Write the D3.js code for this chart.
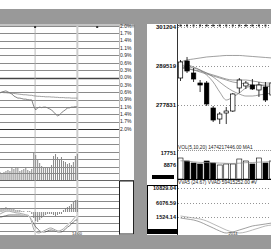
<!DOCTYPE html>
<html>
<head>
<meta charset="utf-8">
<script src="https://cdn.jsdelivr.net/npm/d3@7"></script>
<style>
  body { margin: 0; background: #fff; }
  svg { display: block; font-family: 'Liberation Sans', Arial, sans-serif; }
</style>
</head>
<body>
<svg id="chart" width="271" height="249"></svg>
<script>
// ---- left panel: intraday (percent change) ----
let pctTicks = [2.0, 1.71, 1.43, 1.14, 0.86, 0.57, 0.29, 0, -0.29, -0.57, -0.86, -1.14, -1.43, -1.71, -2.0];
let pricePct = [-0.60, -0.56, -0.54, -0.52, -0.56, -0.60, -0.64, -0.72, -0.76, -0.80,
  -0.80, -0.82, -0.84, -0.84, -0.86, -0.87, -0.87, -1.11, -1.26, -1.18,
  -1.15, -1.17, -1.15, -1.15, -1.18, -1.22, -1.26, -1.34, -1.42, -1.49,
  -1.45, -1.38, -1.30, -1.26, -1.18, -1.18, -1.15, -1.15, -1.13, -1.15];
let avgPct = [-0.58, -0.58, -0.59, -0.59, -0.60, -0.60, -0.61, -0.62, -0.63, -0.64,
  -0.65, -0.66, -0.67, -0.67, -0.68, -0.69, -0.69, -0.71, -0.72, -0.73,
  -0.73, -0.74, -0.74, -0.75, -0.75, -0.75, -0.76, -0.76, -0.77, -0.77,
  -0.78, -0.78, -0.78, -0.79, -0.79, -0.79, -0.80, -0.80, -0.80, -0.80];
let minuteVol = [8, 7, 8, 9, 10, 9, 12, 11, 13, 12, 9, 10, 11, 12, 10, 9, 11,
  28, 25, 20, 17, 14, 12, 13, 13, 12, 15, 24, 26, 23, 21, 23, 19, 18, 16, 17, 15, 18, 24, 26];
let difL = [-2, -1, 0, 1, 1, 1, 0, 0, -1, -1, -1, -2, -2, -3, -3, -4, -10, -18, -20, -21,
  -21, -20, -19, -18, -17, -16, -16, -17, -18, -19, -19, -18, -17, -15, -13, -11, -10, -7, -5, -3];
let deaL = [-5, -5, -4, -4, -3, -3, -3, -3, -3, -3, -3, -3, -3, -3, -4, -5, -8, -12, -15, -17,
  -19, -20, -20, -20, -19, -18, -18, -18, -19, -20, -20, -20, -19, -17, -15, -14, -12, -10, -8, -8];
let macdBar = [3, 4, 4, 5, 4, 4, 3, 3, 2, 2, 2, 1, 1, 0, 1, 1, -2, -6, -9, -10,
  -8, -6, -4, -3, -2, -2, -2, -3, -4, -3, -2, -2, 2, 4, 5, 6, 8, 10, 12, 12];
let vLinesL = [17.7, 39];
let topMarksL = [17.7, 49];
let timeLabel = '14:00';

// ---- right panel: daily candles ----
let priceTicks = [277831, 289519, 301204];
let opens  = [285920, 291020, 287420, 284420, 284420, 276930, 273630, 275430, 276030, 282930, 283530, 283820, 282330, 283230, 280830];
let highs  = [291320, 292220, 288920, 285320, 285020, 277530, 275730, 277230, 281430, 285920, 285020, 285620, 284720, 284720, 285620];
let lows   = [285020, 287420, 284720, 281720, 277530, 272730, 272130, 272130, 275730, 281430, 282630, 282330, 280230, 278730, 280230];
let closes = [290720, 288020, 285620, 283820, 278130, 273330, 275130, 276030, 281130, 285320, 284420, 282630, 283820, 279330, 284420];
let maLong = [290720, 291320, 291620, 291920, 292220, 292370, 292520, 292670, 292670, 292670, 292520, 292370, 292220, 292070, 291920];
let maA    = [289220, 288920, 288320, 287720, 287120, 286520, 285920, 285320, 284720, 284420, 284120, 283820, 283820, 283820, 283820];
let maB    = [288920, 288620, 288320, 288020, 287420, 286820, 286220, 285620, 285320, 285320, 285320, 285020, 284720, 284420, 284420];
let ma5    = [289520, 289820, 289220, 288320, 286820, 284720, 281720, 279320, 280220, 281420, 282920, 283520, 283820, 283520, 283220];
let ma10   = [289220, 289220, 288920, 288320, 287420, 286220, 284720, 283220, 282020, 281120, 280520, 280520, 280820, 281120, 281420];
let volTicks = [8876, 17751];
let dayVol = [14050, 11830, 10350, 9620, 11830, 10350, 8880, 9620, 9620, 13310, 11830, 9620, 14050, 10350, 11830];
let volMa = [12000, 11800, 11200, 10800, 10700, 10500, 10300, 10100, 10000, 10200, 10600, 10700, 11000, 11200, 11400];
let indTicks = [1524.14, 6076.59, 10829.04];
let indA = [1200, 880, 560, -80, -1040, -2000, -2970, -3610, -3290, -2650, -2010, -1360, -1040, -720, -400];
let indB = [1850, 1520, 1200, 880, 240, -720, -1680, -2650, -3290, -3610, -3290, -2650, -2010, -1360, -1040];
let volText = 'VOL(5,10,20)  1474217446.00  MA1';
let subText = 'VVA5 (24.67)  VVAD  59415252.00  #V';

let svg = d3.select('#chart');
let W = 271, H = 249;
let grey = '#999999';

// background frames
svg.append('rect').attr('x', 0).attr('y', 0).attr('width', W).attr('height', H).attr('fill', '#fff');
svg.append('rect').attr('x', 0).attr('y', 9).attr('width', W).attr('height', 15).attr('fill', grey);
svg.append('rect').attr('x', 0).attr('y', 235).attr('width', W).attr('height', 14).attr('fill', grey);
svg.append('rect').attr('x', 134).attr('y', 24).attr('width', 13).attr('height', 211).attr('fill', grey);

// ================= LEFT PANEL =================
let L = svg.append('g');
let xL = d3.scaleLinear().domain([0, 60]).range([0, 119]);
let yL = d3.scaleLinear().domain([-2, 2]).range([129, 26]);
let yLV = d3.scaleLinear().domain([0, 32]).range([180, 148]);
let yLM = d3.scaleLinear().domain([-24, 24]).range([236, 188]);

L.append('line').attr('x1', 0).attr('x2', 134).attr('y1', 25).attr('y2', 25).attr('stroke', '#888').attr('stroke-width', 1);

// price grid
L.append('g').selectAll('line').data(pctTicks).enter().append('line')
  .attr('x1', 0).attr('x2', 119)
  .attr('y1', function(d) { return Math.round(yL(d)) + 0.5; })
  .attr('y2', function(d) { return Math.round(yL(d)) + 0.5; })
  .attr('stroke', function(d) { return d === 0 ? '#444' : '#8a8a8a'; })
  .attr('stroke-width', function(d) { return d === 0 ? 1.5 : 1; });
L.append('g').selectAll('text').data(pctTicks).enter().append('text')
  .attr('x', 120).attr('y', function(d) { return yL(d) + 1.8; })
  .attr('font-size', 5).attr('fill', '#222')
  .text(function(d) { return Math.abs(d).toFixed(1) + '%'; });

// volume grid and macd grid
let lvGrid = [137, 144, 152, 159, 167, 173];
let lmGrid = [187, 194, 201, 208, 216, 223, 231];
L.append('g').selectAll('line').data(lvGrid.concat(lmGrid)).enter().append('line')
  .attr('x1', 0).attr('x2', 119)
  .attr('y1', function(d) { return d + 0.5; }).attr('y2', function(d) { return d + 0.5; })
  .attr('stroke', '#8a8a8a');
L.append('line').attr('x1', 0).attr('x2', 119).attr('y1', 129.5).attr('y2', 129.5).attr('stroke', '#333').attr('stroke-width', 1.2);
L.append('line').attr('x1', 0).attr('x2', 134).attr('y1', 180.5).attr('y2', 180.5).attr('stroke', '#666');

// vertical lines
L.append('line').attr('x1', xL(vLinesL[0])).attr('x2', xL(vLinesL[0])).attr('y1', 26).attr('y2', 235).attr('stroke', '#aaa').attr('stroke-width', 0.8);
L.append('line').attr('x1', xL(vLinesL[1])).attr('x2', xL(vLinesL[1])).attr('y1', 26).attr('y2', 235).attr('stroke', '#ccc').attr('stroke-width', 2);
L.append('line').attr('x1', 119.5).attr('x2', 119.5).attr('y1', 25).attr('y2', 235).attr('stroke', '#bbb');
L.append('g').selectAll('rect').data(topMarksL).enter().append('rect')
  .attr('x', function(d) { return xL(d) - 1; }).attr('y', 26).attr('width', 2).attr('height', 2).attr('fill', '#333');
L.append('rect').attr('x', 132).attr('y', 25).attr('width', 2).attr('height', 2).attr('fill', 'none').attr('stroke', '#666').attr('stroke-width', 0.5);

// price and avg lines
let lineL = function(arr) {
  return d3.line().x(function(d, i) { return xL(i); }).y(function(d) { return yL(d); })(arr);
};
L.append('path').attr('d', lineL(avgPct)).attr('fill', 'none').attr('stroke', '#888').attr('stroke-width', 0.8);
L.append('path').attr('d', lineL(pricePct)).attr('fill', 'none').attr('stroke', '#777').attr('stroke-width', 0.9);

// minute volume
L.append('g').selectAll('line').data(minuteVol).enter().append('line')
  .attr('x1', function(d, i) { return xL(i); }).attr('x2', function(d, i) { return xL(i); })
  .attr('y1', yLV(0)).attr('y2', function(d) { return yLV(d); })
  .attr('stroke', '#888').attr('stroke-width', 1);

// macd
L.append('g').selectAll('line').data(macdBar).enter().append('line')
  .attr('x1', function(d, i) { return xL(i); }).attr('x2', function(d, i) { return xL(i); })
  .attr('y1', yLM(0)).attr('y2', function(d) { return yLM(d); })
  .attr('stroke', '#777').attr('stroke-width', 0.9);
let lineM = function(arr) {
  return d3.line().curve(d3.curveBasis).x(function(d, i) { return xL(i); }).y(function(d) { return yLM(d); })(arr);
};
L.append('path').attr('d', lineM(deaL)).attr('fill', 'none').attr('stroke', '#555').attr('stroke-width', 0.8);
L.append('path').attr('d', lineM(difL)).attr('fill', 'none').attr('stroke', '#fff').attr('stroke-width', 1.6);
L.append('path').attr('d', lineM(difL)).attr('fill', 'none').attr('stroke', '#666').attr('stroke-width', 0.6);

// box in label column
L.append('rect').attr('x', 119.5).attr('y', 181).attr('width', 14).attr('height', 53).attr('fill', '#fff').attr('stroke', '#222');
L.append('text').attr('x', 77).attr('y', 234.5).attr('font-size', 4).attr('text-anchor', 'middle').attr('fill', '#222').text(timeLabel);

// ================= RIGHT PANEL =================
let R = svg.append('g');
let xR = d3.scaleLinear().domain([0, 14]).range([180.5, 272]);
let yR = d3.scaleLinear().domain([277831, 301204]).range([105, 27]);
let yRV = d3.scaleLinear().domain([0, 17751]).range([177, 153]);
let yRI = d3.scaleLinear().domain([1524.14, 10829.04]).range([217, 188]);
let bw = 4.4;

R.append('line').attr('x1', 177.5).attr('x2', 177.5).attr('y1', 24).attr('y2', 235).attr('stroke', '#333');

// price gridlines + labels
R.append('g').selectAll('line').data(priceTicks).enter().append('line')
  .attr('x1', 178).attr('x2', W)
  .attr('y1', function(d) { return Math.round(yR(d)) + 0.5; }).attr('y2', function(d) { return Math.round(yR(d)) + 0.5; })
  .attr('stroke', '#666').attr('stroke-dasharray', '1,2').attr('stroke-width', 0.7);
R.append('g').selectAll('text').data(priceTicks).enter().append('text')
  .attr('x', 176).attr('y', function(d) { return yR(d) + 2; }).attr('text-anchor', 'end')
  .attr('font-size', 6).attr('font-weight', 'bold').attr('fill', '#111')
  .text(function(d) { return d; });
R.append('line').attr('x1', 178).attr('x2', W).attr('y1', 25.5).attr('y2', 25.5).attr('stroke', '#444').attr('stroke-dasharray', '1,2');
R.append('g').selectAll('rect').data(closes).enter().append('rect')
  .attr('x', function(d, i) { return xR(i) - 1; }).attr('y', 24.5).attr('width', 2).attr('height', 2).attr('fill', '#333');

// moving averages
let lineR = function(arr) {
  return d3.line().curve(d3.curveMonotoneX).x(function(d, i) { return xR(i); }).y(function(d) { return yR(d); })(arr);
};
[maLong, maA, maB, ma10, ma5].forEach(function(arr) {
  R.append('path').attr('d', lineR(arr)).attr('fill', 'none').attr('stroke', '#777').attr('stroke-width', 0.7);
});

// candles
let candles = R.append('g').selectAll('g').data(closes).enter().append('g');
candles.append('line')
  .attr('x1', function(d, i) { return xR(i); }).attr('x2', function(d, i) { return xR(i); })
  .attr('y1', function(d, i) { return yR(highs[i]); }).attr('y2', function(d, i) { return yR(lows[i]); })
  .attr('stroke', '#000').attr('stroke-width', 0.8);
candles.append('rect')
  .attr('x', function(d, i) { return xR(i) - bw / 2; })
  .attr('y', function(d, i) { return yR(Math.max(opens[i], closes[i])); })
  .attr('width', bw)
  .attr('height', function(d, i) { return Math.max(1, Math.abs(yR(opens[i]) - yR(closes[i]))); })
  .attr('fill', function(d, i) { return closes[i] >= opens[i] ? '#fff' : '#000'; })
  .attr('stroke', '#000').attr('stroke-width', 0.7);

// volume
R.append('line').attr('x1', 178).attr('x2', W).attr('y1', 150.5).attr('y2', 150.5).attr('stroke', '#999').attr('stroke-dasharray', '1,1');
R.append('text').attr('x', 178).attr('y', 148.5).attr('font-size', 4.8).attr('fill', '#222').text(volText);
R.append('g').selectAll('text').data(volTicks).enter().append('text')
  .attr('x', 176).attr('y', function(d) { return yRV(d) + 2; }).attr('text-anchor', 'end')
  .attr('font-size', 5.5).attr('font-weight', 'bold').attr('fill', '#111')
  .text(function(d) { return d; });
R.append('g').selectAll('rect').data(dayVol).enter().append('rect')
  .attr('x', function(d, i) { return xR(i) - bw / 2 - 0.3; }).attr('y', function(d) { return yRV(d); })
  .attr('width', bw + 0.6).attr('height', function(d) { return yRV(0) + 2 - yRV(d); })
  .attr('fill', function(d, i) { return closes[i] >= opens[i] ? '#fff' : '#000'; })
  .attr('stroke', '#000').attr('stroke-width', 0.6);
R.append('path')
  .attr('d', d3.line().x(function(d, i) { return xR(i); }).y(function(d) { return yRV(d); })(volMa))
  .attr('fill', 'none').attr('stroke', '#888').attr('stroke-width', 0.7);
R.append('rect').attr('x', 152).attr('y', 175).attr('width', 22).attr('height', 4).attr('fill', '#000');
R.append('line').attr('x1', 178).attr('x2', W).attr('y1', 179.5).attr('y2', 179.5).attr('stroke', '#000');
R.append('text').attr('x', 178).attr('y', 184.2).attr('font-size', 4.8).attr('fill', '#222').text(subText);

// lower indicator
R.append('rect').attr('x', 147.5).attr('y', 185.5).attr('width', 30).attr('height', 48).attr('fill', '#fff').attr('stroke', '#000');
R.append('g').selectAll('line').data(indTicks).enter().append('line')
  .attr('x1', 178).attr('x2', W)
  .attr('y1', function(d) { return Math.round(yRI(d)) + 0.5; }).attr('y2', function(d) { return Math.round(yRI(d)) + 0.5; })
  .attr('stroke', '#666').attr('stroke-dasharray', '1,2').attr('stroke-width', 0.7);
R.append('g').selectAll('text').data(indTicks).enter().append('text')
  .attr('x', 176).attr('y', function(d) { return yRI(d) + 2; }).attr('text-anchor', 'end')
  .attr('font-size', 5.5).attr('font-weight', 'bold').attr('fill', '#111')
  .text(function(d) { return d.toFixed(2); });
let lineI = function(arr) {
  return d3.line().curve(d3.curveMonotoneX).x(function(d, i) { return xR(i); }).y(function(d) { return yRI(d); })(arr);
};
R.append('path').attr('d', lineI(indA)).attr('fill', 'none').attr('stroke', '#777').attr('stroke-width', 0.7);
R.append('path').attr('d', lineI(indB)).attr('fill', 'none').attr('stroke', '#999').attr('stroke-width', 0.7);
R.append('rect').attr('x', 148).attr('y', 229).attr('width', 29).attr('height', 4.5).attr('fill', '#000');
R.append('text').attr('x', 233).attr('y', 234.5).attr('font-size', 4).attr('text-anchor', 'middle').attr('fill', '#222').text('2014');
</script>
</body>
</html>
